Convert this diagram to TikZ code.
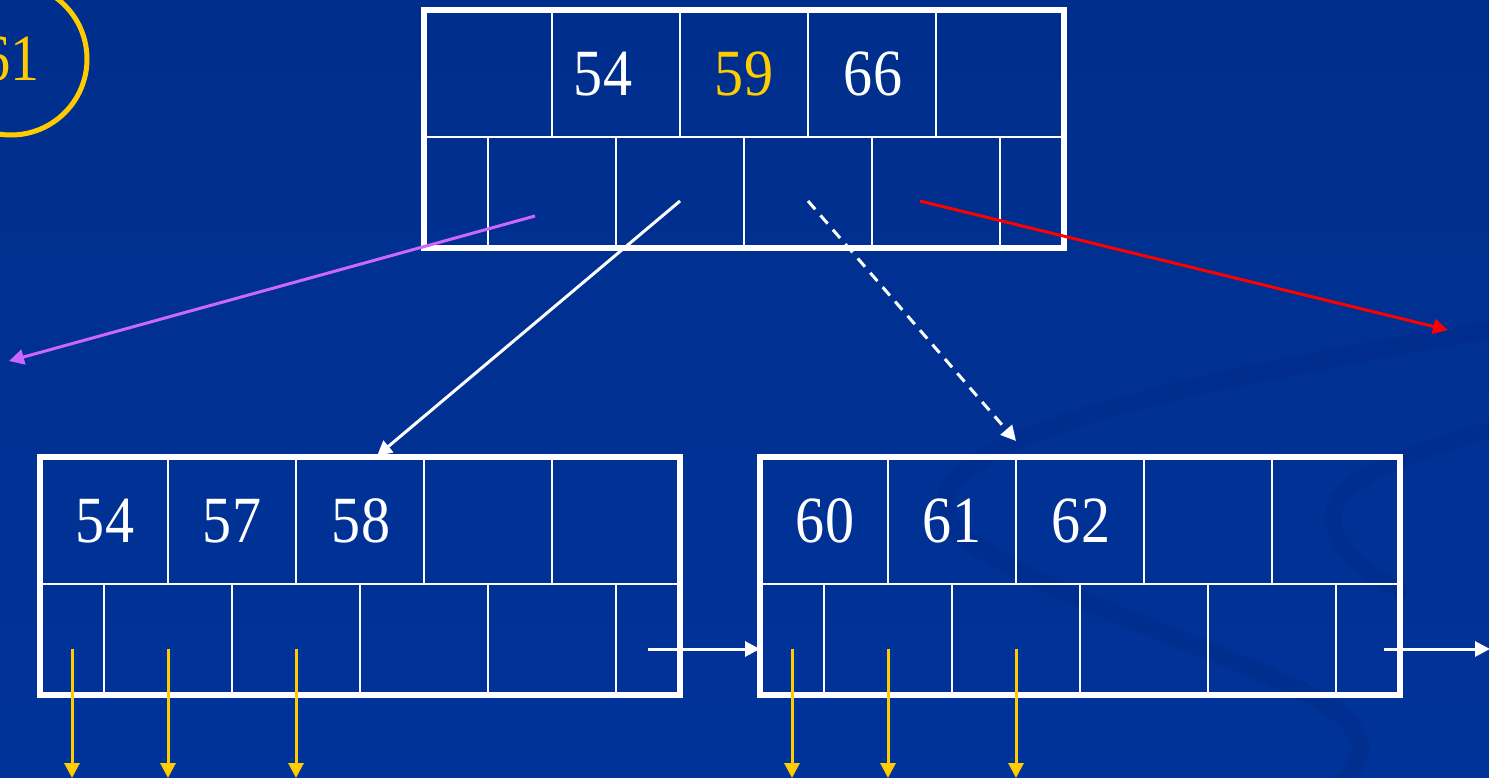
\documentclass[tikz,border=0pt]{standalone}
\usepackage{fontspec}
\setmainfont{Liberation Serif}
\usetikzlibrary{arrows.meta}
\definecolor{bgblue}{RGB}{0,51,153}
\definecolor{bgtop}{RGB}{0,46,140}
\definecolor{swoosh}{RGB}{0,44,138}
\definecolor{gold}{RGB}{255,204,0}
\definecolor{lilac}{RGB}{204,102,255}
\begin{document}
\begin{tikzpicture}[x=1pt,y=-1pt,
  boxframe/.style={draw=white,line width=5.5pt,minimum width=640pt,minimum height=238pt,inner sep=0pt},
  cellline/.style={draw=white,line width=2.2pt},
  num/.style={text=white,font=\fontsize{66}{70}\selectfont,inner sep=0pt,xscale=0.88},
  tipT/.style={-{Triangle[length=15pt,width=15pt]}},
  conn/.style={line width=3pt,tipT},
  down/.style={draw=gold,line width=3pt,tipT}]
% background
\shade[top color=bgtop,bottom color=bgblue] (0,0) rectangle (1489,777);
\useasboundingbox (0,0) rectangle (1489,777);
\draw[swoosh,line width=18pt,opacity=0.55,line cap=round]
  (1489,330) .. controls (1200,380) and (960,430) .. (945,500)
  .. controls (935,560) and (1150,620) .. (1300,690)
  .. controls (1380,730) and (1370,760) .. (1330,790);
\draw[swoosh,line width=16pt,opacity=0.55,line cap=round]
  (1489,430) .. controls (1380,460) and (1320,490) .. (1335,530)
  .. controls (1345,560) and (1380,580) .. (1400,590);
% circle with 61
\node[draw=gold,line width=5pt,circle,minimum size=152pt,inner sep=0pt] (c61) at (11,59) {};
\node[num,text=gold] (t61) at (11,59) {61};
% boxes
\node[boxframe] (T) at (744,129) {};
\node[boxframe] (L) at (360,576) {};
\node[boxframe] (R) at (1080,576) {};
% inner lines of top box
\draw[cellline] (424,137) -- (1064,137);
\foreach \x in {552,680,808,936} \draw[cellline] (\x,10) -- (\x,137);
\foreach \x in {488,616,744,872,1000} \draw[cellline] (\x,137) -- (\x,248);
% inner lines of left box
\draw[cellline] (40,584) -- (680,584);
\foreach \x in {168,296,424,552} \draw[cellline] (\x,457) -- (\x,584);
\foreach \x in {104,232,360,488,616} \draw[cellline] (\x,584) -- (\x,695);
% inner lines of right box
\draw[cellline] (760,584) -- (1400,584);
\foreach \x in {888,1016,1144,1272} \draw[cellline] (\x,457) -- (\x,584);
\foreach \x in {824,952,1080,1208,1336} \draw[cellline] (\x,584) -- (\x,695);
% numbers
\node[num] (k54) at (603,74) {54};
\node[num,text=gold] (k59) at (744,74) {59};
\node[num] (k66) at (873,74) {66};
\node[num] (a54) at (105,521) {54};
\node[num] (a57) at (232,521) {57};
\node[num] (a58) at (361,521) {58};
\node[num] (b60) at (825,521) {60};
\node[num] (b61) at (952,521) {61};
\node[num] (b62) at (1081,521) {62};
% connector coordinates
\coordinate (p0) at (535,216);
\coordinate (p0e) at (9,361);
\coordinate (p1) at (680,201);
\coordinate (p1e) at (377,456);
\coordinate (p2) at (808,201);
\coordinate (p2e) at (1016,441);
\coordinate (p3) at (920,201);
\coordinate (p3e) at (1448,330);
\coordinate (lnext) at (648,649);
\coordinate (rin) at (760,649);
\coordinate (rnext) at (1384,649);
\coordinate (rout) at (1490,649);
% connectors
\draw[conn,draw=lilac] (p0) -- (p0e);
\draw[conn,draw=white] (p1) -- (p1e);
\draw[conn,draw=white,dash pattern=on 11pt off 8pt] (p2) -- (p2e);
\draw[conn,draw=red] (p3) -- (p3e);
\draw[conn,draw=white] (lnext) -- (rin);
\draw[conn,draw=white] (rnext) -- (rout);
\foreach \x [count=\i] in {72,168,296,792,888,1016} {
  \coordinate (d\i) at (\x,649);
  \coordinate (e\i) at (\x,778);
  \draw[down] (d\i) -- (e\i);
}
\end{tikzpicture}
\end{document}
